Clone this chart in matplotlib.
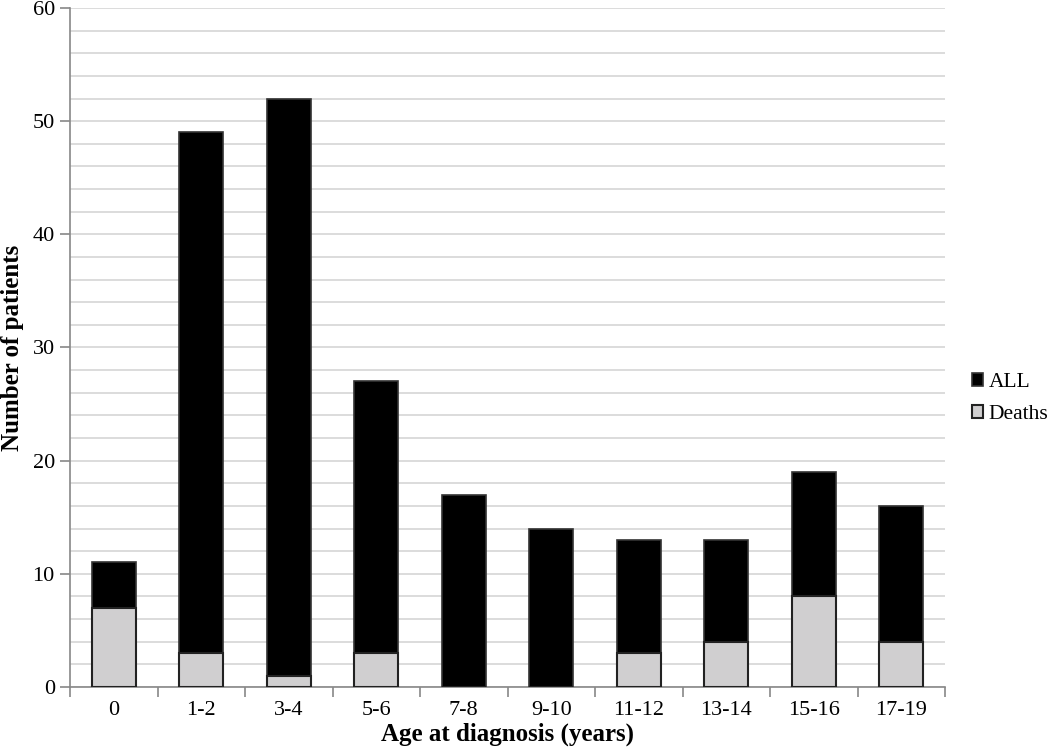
import numpy as np
import matplotlib.pyplot as plt
from matplotlib.ticker import MultipleLocator, FixedLocator

plt.rcParams['font.family'] = ['Liberation Serif', 'DejaVu Serif']

age_groups = ["0", "1-2", "3-4", "5-6", "7-8", "9-10", "11-12", "13-14", "15-16", "17-19"]
all_cases = [11, 49, 52, 27, 17, 14, 13, 13, 19, 16]
deaths = [7, 3, 1, 3, 0, 0, 3, 4, 8, 4]

x = np.arange(len(age_groups))

fig = plt.figure(figsize=(10.5, 7.54), dpi=100)
ax = fig.add_axes([0.0667, 0.0889, 0.8333, 0.9005])

ax.bar(x, all_cases, width=0.5, color="black", edgecolor="#333333", linewidth=1.2,
       label="ALL", zorder=3)
ax.bar(x, deaths, width=0.5, color="#d0cfd0", edgecolor="#222222", linewidth=1.5,
       label="Deaths", zorder=4)

ax.set_xlim(-0.5, len(age_groups) - 0.5)
ax.set_ylim(0, 60)
ax.yaxis.set_major_locator(MultipleLocator(10))
ax.yaxis.set_minor_locator(MultipleLocator(2))
ax.grid(axis="y", which="both", color="#d9d9d9", linewidth=1.3, zorder=0)
ax.set_axisbelow(True)

ax.set_xticks(x)
ax.set_xticklabels(age_groups)
ax.xaxis.set_minor_locator(FixedLocator(np.arange(-0.5, len(age_groups), 1)))
ax.tick_params(axis="x", which="major", length=0, pad=10, labelsize=16)
ax.tick_params(axis="x", which="minor", length=7, color="#888888", width=1.2)
ax.tick_params(axis="y", which="major", length=7, color="#888888", width=1.2, labelsize=16, pad=4)
ax.tick_params(axis="y", which="minor", length=0)

for s in ["top", "right"]:
    ax.spines[s].set_visible(False)
for s in ["left", "bottom"]:
    ax.spines[s].set_color("#888888")
    ax.spines[s].set_linewidth(1.2)

ax.set_xlabel("Age at diagnosis (years)", fontsize=18, fontweight="bold", labelpad=2)
ax.set_ylabel("Number of patients", fontsize=18, fontweight="bold", labelpad=6)

ax.legend(loc="center left", bbox_to_anchor=(1.018, 0.425), frameon=False, fontsize=15.5,
          borderpad=0, handlelength=0.55, handleheight=0.55, handletextpad=0.25,
          labelspacing=0.6)

fig.savefig("out.png", dpi=100)
